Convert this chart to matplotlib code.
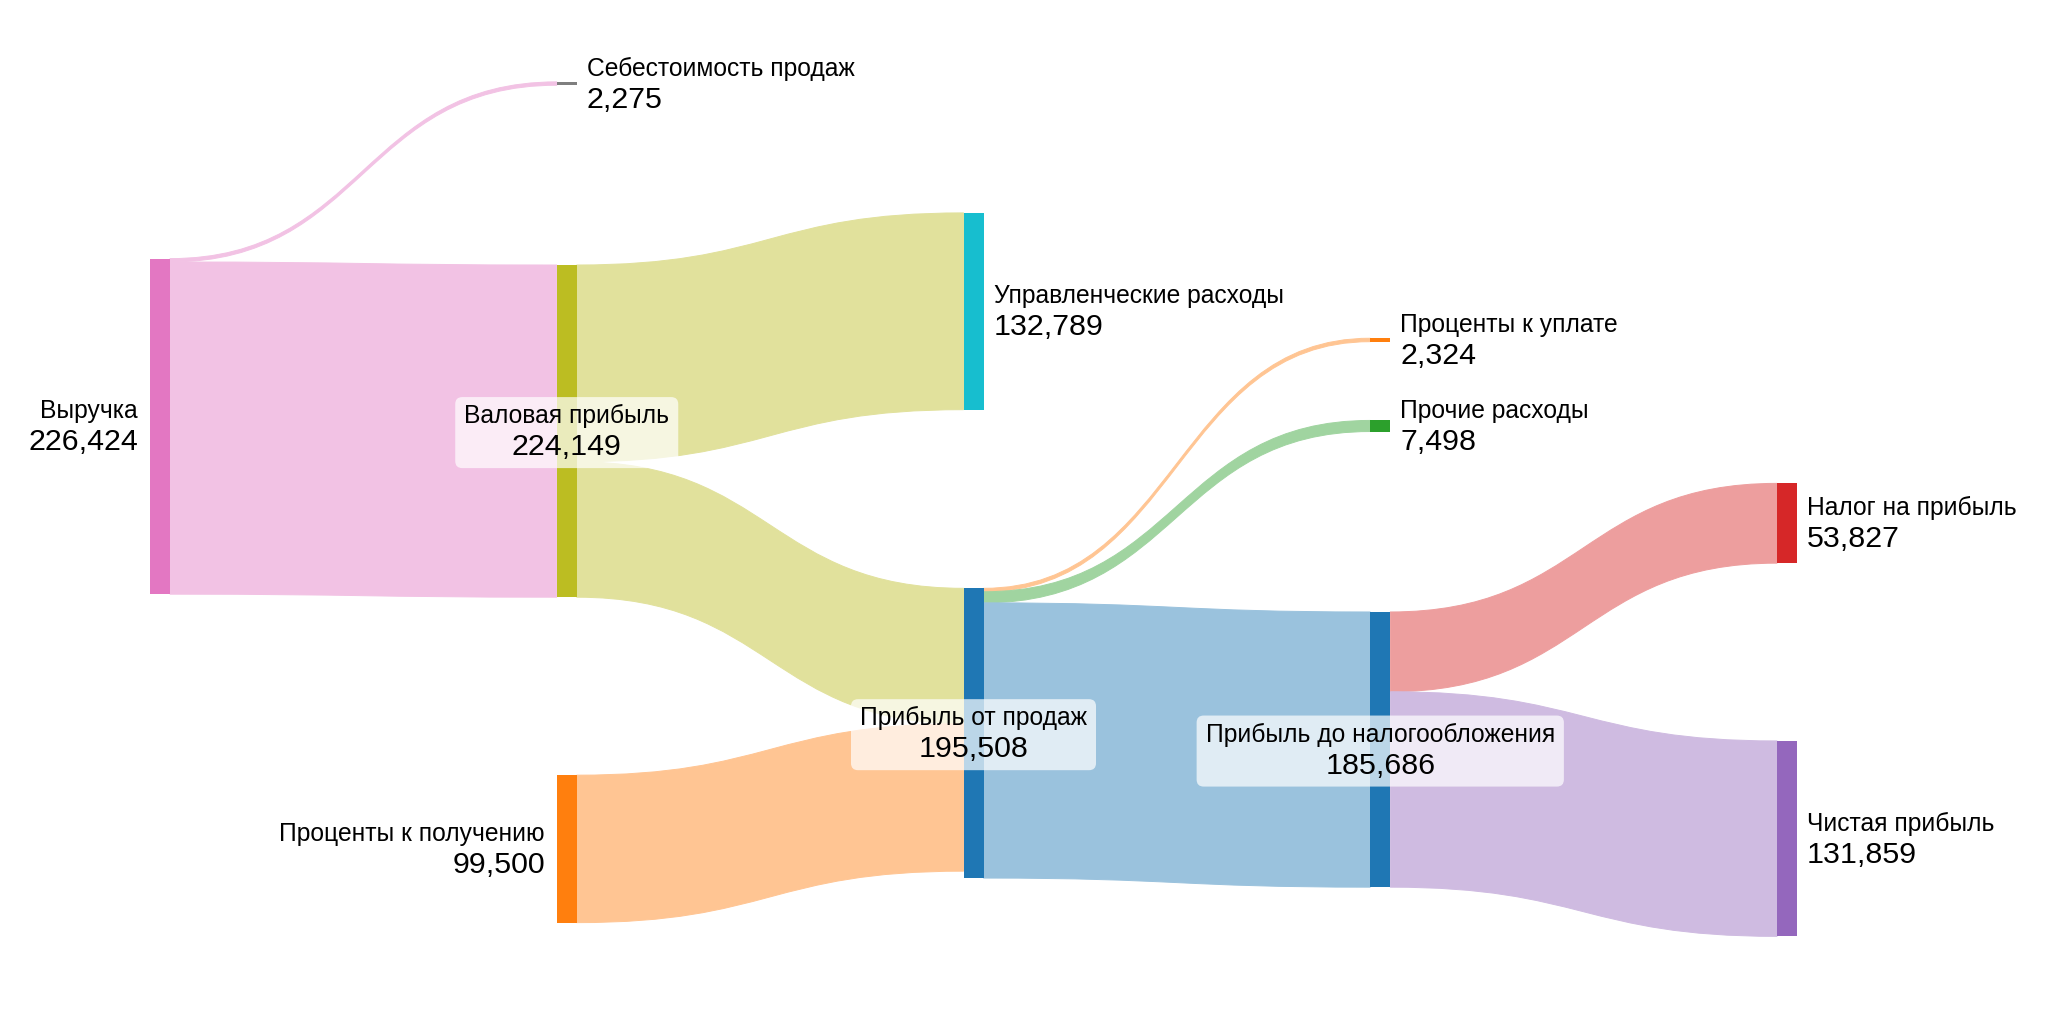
import numpy as np
import matplotlib
matplotlib.use("Agg")
import matplotlib.pyplot as plt
from matplotlib.colors import to_rgb
from matplotlib.path import Path
from matplotlib.patches import PathPatch, Rectangle, FancyBboxPatch
from matplotlib.transforms import Bbox

plt.rcParams['font.family'] = ['Liberation Sans', 'DejaVu Sans']

# данные
node_labels = ["Выручка", "Себестоимость продаж", "Валовая прибыль",
               "Проценты к получению", "Управленческие расходы",
               "Прибыль от продаж", "Проценты к уплате", "Прочие расходы",
               "Прибыль до налогообложения", "Налог на прибыль",
               "Чистая прибыль"]
node_colors = ["#e377c2", "#7f7f7f", "#bcbd22", "#ff7f0e", "#17becf",
               "#1f77b4", "#ff7f0e", "#2ca02c", "#1f77b4", "#d62728",
               "#9467bd"]

link_source = [0, 0, 2, 2, 3, 5, 5, 5, 8, 8]
link_target = [1, 2, 4, 5, 5, 6, 7, 8, 9, 10]
link_value = [2275, 224149, 132789, 91360, 99500, 2324, 7498, 185686,
              53827, 131859]
# из какого узла берется цвет потока
link_color_node = [0, 0, 2, 2, 3, 6, 7, 8, 9, 10]

# раскладка (как node.x / node.y в plotly)
node_column = [0, 1, 1, 1, 2, 2, 3, 3, 3, 4, 4]
node_y = [0.4164, 0.0816, 0.421, 0.829, 0.304, 0.716, 0.332, 0.416,
          0.732, 0.511, 0.819]
label_side = ['left', 'right', 'center', 'left', 'right', 'center',
              'right', 'right', 'center', 'right', 'right']

W, H = 2048, 1024
col_x0, col_dx = 150, 406.75
node_w = 20
px_per_unit = 1.482 / 1000
link_alpha = 0.45
name_size, value_size = 17.7, 21.9

n = len(node_labels)
inflow = np.zeros(n)
outflow = np.zeros(n)
for s, t, v in zip(link_source, link_target, link_value):
    outflow[s] += v
    inflow[t] += v
node_value = np.maximum(inflow, outflow)

node_h = node_value * px_per_unit
node_left = np.array([col_x0 + c * col_dx for c in node_column])
node_cy = np.array(node_y) * H
node_top = node_cy - node_h / 2

fig = plt.figure(figsize=(W / 100, H / 100), dpi=100)
ax = fig.add_axes([0, 0, 1, 1])
ax.set_xlim(0, W)
ax.set_ylim(H, 0)
ax.axis('off')

# смещения потоков внутри узлов
out_off = {}
in_off = {}
for i in range(n):
    outs = [k for k in range(len(link_value)) if link_source[k] == i]
    outs.sort(key=lambda k: node_y[link_target[k]])
    acc = 0
    for k in outs:
        out_off[k] = acc
        acc += link_value[k] * px_per_unit
    ins = [k for k in range(len(link_value)) if link_target[k] == i]
    ins.sort(key=lambda k: node_y[link_source[k]])
    acc = 0
    for k in ins:
        in_off[k] = acc
        acc += link_value[k] * px_per_unit

for k in range(len(link_value)):
    s, t = link_source[k], link_target[k]
    w = link_value[k] * px_per_unit
    x0 = node_left[s] + node_w
    x1 = node_left[t]
    y0 = node_top[s] + out_off[k]
    y1 = node_top[t] + in_off[k]
    xm = (x0 + x1) / 2
    verts = [(x0, y0), (xm, y0), (xm, y1), (x1, y1),
             (x1, y1 + w), (xm, y1 + w), (xm, y0 + w), (x0, y0 + w),
             (x0, y0)]
    codes = [Path.MOVETO, Path.CURVE4, Path.CURVE4, Path.CURVE4,
             Path.LINETO, Path.CURVE4, Path.CURVE4, Path.CURVE4,
             Path.CLOSEPOLY]
    # цвет смешан с белым заранее, чтобы край не темнел
    c = 1 - link_alpha * (1 - np.array(to_rgb(node_colors[link_color_node[k]])))
    ax.add_patch(PathPatch(Path(verts, codes), facecolor=c, edgecolor=c,
                           linewidth=0.7, zorder=1))

for i in range(n):
    ax.add_patch(Rectangle((node_left[i], node_top[i]), node_w, node_h[i],
                           facecolor=node_colors[i], edgecolor='none',
                           zorder=2))

boxed = []
for i in range(n):
    side = label_side[i]
    cy = node_cy[i]
    if side == 'left':
        x, ha = node_left[i] - 12, 'right'
    elif side == 'right':
        x, ha = node_left[i] + node_w + 10, 'left'
    else:
        x, ha = node_left[i] + node_w / 2, 'center'
    t1 = ax.text(x, cy - 15, node_labels[i], ha=ha, va='center',
                 fontsize=name_size, color='black', zorder=4)
    t2 = ax.text(x, cy + 16, f"{int(node_value[i]):,}", ha=ha, va='center',
                 fontsize=value_size, color='black', zorder=4)
    if side == 'center':
        boxed.append((t1, t2))

fig.canvas.draw()
renderer = fig.canvas.get_renderer()
inv = ax.transData.inverted()
for t1, t2 in boxed:
    bb = Bbox.union([t1.get_window_extent(renderer),
                     t2.get_window_extent(renderer)])
    (bx0, by0), (bx1, by1) = inv.transform([[bb.x0, bb.y0], [bb.x1, bb.y1]])
    top, bot = min(by0, by1), max(by0, by1)
    pad = 9
    ax.add_patch(FancyBboxPatch((bx0 - pad, top - pad + 2),
                                bx1 - bx0 + 2 * pad, bot - top + 2 * pad - 4,
                                boxstyle="round,pad=0,rounding_size=7",
                                facecolor='white', edgecolor='none',
                                alpha=0.7, zorder=3))

fig.savefig("out.png", dpi=100)
